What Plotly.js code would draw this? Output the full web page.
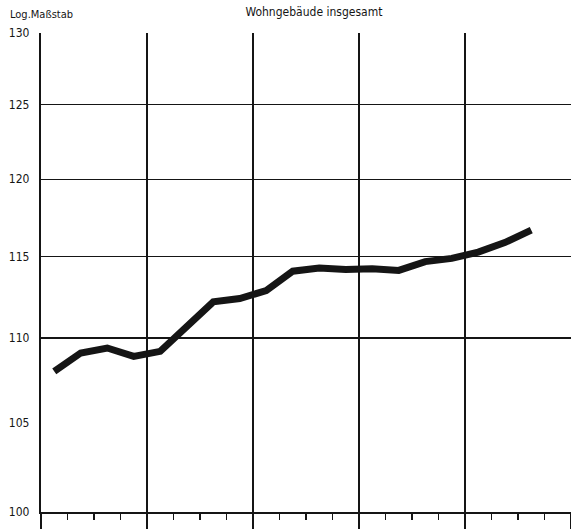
<!DOCTYPE html>
<html>
<head>
<meta charset="utf-8">
<script src="https://cdn.plot.ly/plotly-3.0.1.min.js"></script>
<style>html,body{margin:0;padding:0;background:#fff;}#chart{width:571px;height:529px;}</style>
</head>
<body>
<div id="chart"></div>
<script>
// Quarterly positions (mid-quarter) and index values (log scale)
const quarters = [0.5,1.5,2.5,3.5,4.5,5.5,6.5,7.5,8.5,9.5,10.5,11.5,12.5,13.5,14.5,15.5,16.5,17.5,18.5];
const values = [108.0,109.1,109.4,108.9,109.2,110.7,112.2,112.4,112.9,114.1,114.3,114.2,114.25,114.15,114.7,114.9,115.3,115.9,116.7];
const yTickVals = [100,105,110,115,120,125,130];
const yGridVals = [110,115,120,125,130];
const titleText = "Wohngebäude insgesamt";
const scaleNote = "Log.Maßstab";

const FONT = '"DejaVu Sans Condensed", "Liberation Sans Narrow", "Roboto", sans-serif';
const INK = '#151515';

const data = [{
  x: quarters, y: values, type: 'scatter', mode: 'lines',
  line: {color: INK, width: 7, shape: 'linear'},
  hoverinfo: 'skip', showlegend: false
}, {
  x: [quarters[0]], y: [values[0]], yaxis: 'y2', type: 'scatter', mode: 'markers',
  marker: {opacity: 0}, hoverinfo: 'skip', showlegend: false
}];

const layout = {
  width: 571, height: 529,
  margin: {l: 41, r: 0, t: 33, b: 17},
  paper_bgcolor: '#fff', plot_bgcolor: '#fff',
  font: {family: FONT, color: INK, size: 12},
  title: {text: titleText, x: 0.515, xref: 'paper', y: 0.985, yref: 'container', xanchor: 'center', yanchor: 'top', font: {family: FONT, size: 12, color: INK}},
  xaxis: {
    range: [0, 20], tickmode: 'linear', tick0: 0, dtick: 4,
    showgrid: true, gridcolor: INK, gridwidth: 1.2,
    showline: true, linecolor: INK, linewidth: 2.4,
    ticks: 'outside', ticklen: 17, tickwidth: 1.2, tickcolor: INK,
    showticklabels: false, zeroline: false, fixedrange: true,
    minor: {dtick: 1, tick0: 0, ticks: 'outside', ticklen: 6, tickwidth: 1.2, tickcolor: INK, showgrid: false}
  },
  yaxis: {
    type: 'log', range: [Math.log10(100), Math.log10(130)],
    tickmode: 'array', tickvals: yTickVals, ticktext: yTickVals.map(String),
    showgrid: false, showline: true, linecolor: INK, linewidth: 2.2,
    ticks: '', ticklabelstandoff: 7, zeroline: false, fixedrange: true,
    tickfont: {family: FONT, size: 12, color: INK}
  },
  yaxis2: {
    type: 'log', range: [Math.log10(100), Math.log10(130)], overlaying: 'y', side: 'left',
    tickmode: 'array', tickvals: yGridVals, showticklabels: false, ticks: '',
    showgrid: true, gridcolor: INK, gridwidth: 1.1, showline: false, zeroline: false, fixedrange: true
  },
  annotations: [{
    text: scaleNote, xref: 'paper', yref: 'paper', x: -0.062, y: 1.0, xanchor: 'left', yanchor: 'bottom',
    yshift: 10, showarrow: false, font: {family: FONT, size: 11, color: INK}
  }]
};

Plotly.newPlot('chart', data, layout, {displayModeBar: false, staticPlot: true});
</script>
</body>
</html>
